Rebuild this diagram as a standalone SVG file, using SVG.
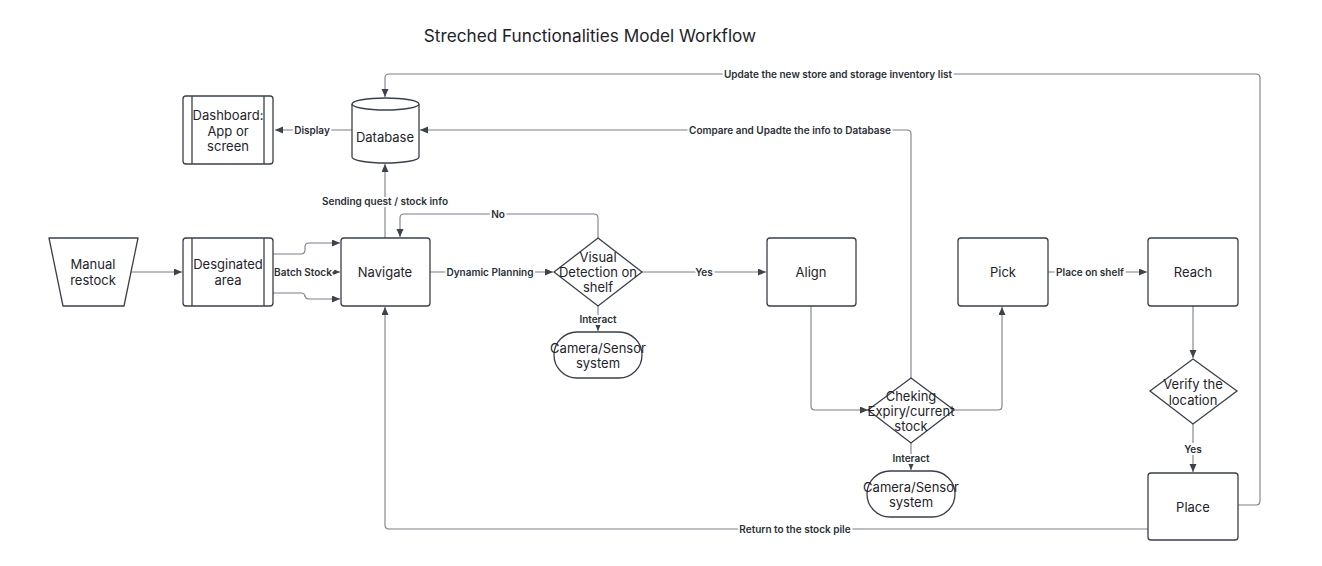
<svg xmlns="http://www.w3.org/2000/svg" width="1322" height="566" viewBox="0 0 1322 566">
<defs>
<marker id="arr" markerUnits="userSpaceOnUse" markerWidth="9" markerHeight="8" refX="8" refY="3.5" orient="auto">
<path d="M0,0 L8,3.5 L0,7 z" fill="#3d424b"/>
</marker>
<style>
.node{fill:#fff;stroke:#3a3f48;stroke-width:1.3}
.t{font-family:Inter,"Liberation Sans",sans-serif;font-size:13px;fill:#1f2329;text-anchor:middle;dominant-baseline:central}
.c{fill:none;stroke:#7a7f88;stroke-width:1.1;marker-end:url(#arr)}
.l{font-family:Inter,"Liberation Sans",sans-serif;font-size:10px;font-weight:600;fill:#2b2f36;text-anchor:middle;dominant-baseline:central;stroke:#fff;stroke-width:4;paint-order:stroke}
</style>
</defs>
<rect width="1322" height="566" fill="#fff"/>
<text x="590" y="35" font-family="Inter,'Liberation Sans',sans-serif" font-size="17.2" fill="#1f2329" text-anchor="middle" dominant-baseline="central">Streched Functionalities Model Workflow</text>

<g id="connectors">
<path class="c" d="M1238,505 H1256 Q1260,505 1260,501 V78 Q1260,74 1256,74 H389 Q385,74 385,78 V97"/>
<path class="c" d="M911,378 V134 Q911,130 907,130 H420"/>
<path class="c" d="M352,130 H275"/>
<path class="c" d="M385,238 V164"/>
<path class="c" d="M598,238 V218 Q598,214 594,214 H404 Q400,214 400,218 V237"/>
<path class="c" d="M430,272 H553"/>
<path class="c" d="M642,272 H766"/>
<path class="c" d="M598,306 V331"/>
<path class="c" d="M811,306 V406 Q811,410 815,410 H868"/>
<path class="c" d="M954,410 H998 Q1002,410 1002,406 V307"/>
<path class="c" d="M1048,272 H1147"/>
<path class="c" d="M1193,306 V358"/>
<path class="c" d="M1193,424 V472"/>
<path class="c" d="M911,443 V470"/>
<path class="c" d="M1148,529 H389 Q385,529 385,525 V307"/>
<path class="c" d="M131,272 H182"/>
<path class="c" d="M273,254 H301 Q305,254 305,250 V247 Q305,243 309,243 H340"/>
<path class="c" d="M273,272 H340"/>
<path class="c" d="M273,293 H301 Q305,293 305,297 V295 Q305,299 309,299 H340"/>
<text class="l" x="838" y="74">Update the new store and storage inventory list</text>
<text class="l" x="790" y="130">Compare and Upadte the info to Database</text>
<text class="l" x="312" y="130">Display</text>
<text class="l" x="385" y="201">Sending quest / stock info</text>
<text class="l" x="498" y="214">No</text>
<text class="l" x="490" y="272">Dynamic Planning</text>
<text class="l" x="704" y="272">Yes</text>
<text class="l" x="598" y="319">Interact</text>
<text class="l" x="1090" y="272">Place on shelf</text>
<text class="l" x="1193" y="449">Yes</text>
<text class="l" x="911" y="458">Interact</text>
<text class="l" x="795" y="529">Return to the stock pile</text>
<text class="l" x="303" y="272">Batch Stock</text>
</g>

<g id="dashboard">
<rect class="node" x="183" y="96" width="90" height="68" rx="3"/>
<line x1="192" y1="96" x2="192" y2="164" stroke="#3a3f48" stroke-width="1.3"/>
<line x1="264" y1="96" x2="264" y2="164" stroke="#3a3f48" stroke-width="1.3"/>
<text class="t" x="228" y="115">Dashboard:</text>
<text class="t" x="228" y="131">App or</text>
<text class="t" x="228" y="146">screen</text>
</g>

<g id="database">
<path class="node" d="M352,104 A33.5,6 0 0 1 419,104 V157 A33.5,6 0 0 1 352,157 Z"/>
<path fill="none" stroke="#3a3f48" stroke-width="1.3" d="M352,104 A33.5,6 0 0 0 419,104"/>
<text class="t" x="385" y="137">Database</text>
</g>

<g id="manual-restock">
<path class="node" d="M49,238 H138 L124,306 H63 Z" stroke-linejoin="round"/>
<text class="t" x="93" y="264">Manual</text>
<text class="t" x="93" y="280">restock</text>
</g>

<g id="designated-area">
<rect class="node" x="183" y="238" width="90" height="68" rx="3"/>
<line x1="192" y1="238" x2="192" y2="306" stroke="#3a3f48" stroke-width="1.3"/>
<line x1="264" y1="238" x2="264" y2="306" stroke="#3a3f48" stroke-width="1.3"/>
<text class="t" x="228" y="264">Desginated</text>
<text class="t" x="228" y="280">area</text>
</g>

<g id="navigate">
<rect class="node" x="341" y="238" width="89" height="68" rx="3"/>
<text class="t" x="385" y="272">Navigate</text>
</g>

<g id="visual-detection">
<path class="node" d="M598,238 L642,272 L598,306 L554,272 Z"/>
<text class="t" x="598" y="257">Visual</text>
<text class="t" x="598" y="272">Detection on</text>
<text class="t" x="598" y="287">shelf</text>
</g>

<g id="camera-1">
<rect class="node" x="554" y="332" width="88" height="46" rx="23"/>
<text class="t" x="598" y="348">Camera/Sensor</text>
<text class="t" x="598" y="363">system</text>
</g>

<g id="align">
<rect class="node" x="767" y="238" width="89" height="68" rx="3"/>
<text class="t" x="811" y="272">Align</text>
</g>

<g id="checking">
<path class="node" d="M911,378 L954,410 L911,443 L868,410 Z"/>
<text class="t" x="911" y="396">Cheking</text>
<text class="t" x="911" y="411">Expiry/current</text>
<text class="t" x="911" y="426">stock</text>
</g>

<g id="camera-2">
<rect class="node" x="867" y="471" width="88" height="46" rx="23"/>
<text class="t" x="911" y="487">Camera/Sensor</text>
<text class="t" x="911" y="502">system</text>
</g>

<g id="pick">
<rect class="node" x="958" y="238" width="90" height="68" rx="3"/>
<text class="t" x="1003" y="272">Pick</text>
</g>

<g id="reach">
<rect class="node" x="1148" y="238" width="90" height="68" rx="3"/>
<text class="t" x="1193" y="272">Reach</text>
</g>

<g id="verify">
<path class="node" d="M1193,359 L1237,391 L1193,424 L1150,391 Z"/>
<text class="t" x="1193" y="384">Verify the</text>
<text class="t" x="1193" y="400">location</text>
</g>

<g id="place">
<rect class="node" x="1148" y="473" width="90" height="67" rx="3"/>
<text class="t" x="1193" y="507">Place</text>
</g>
</svg>
